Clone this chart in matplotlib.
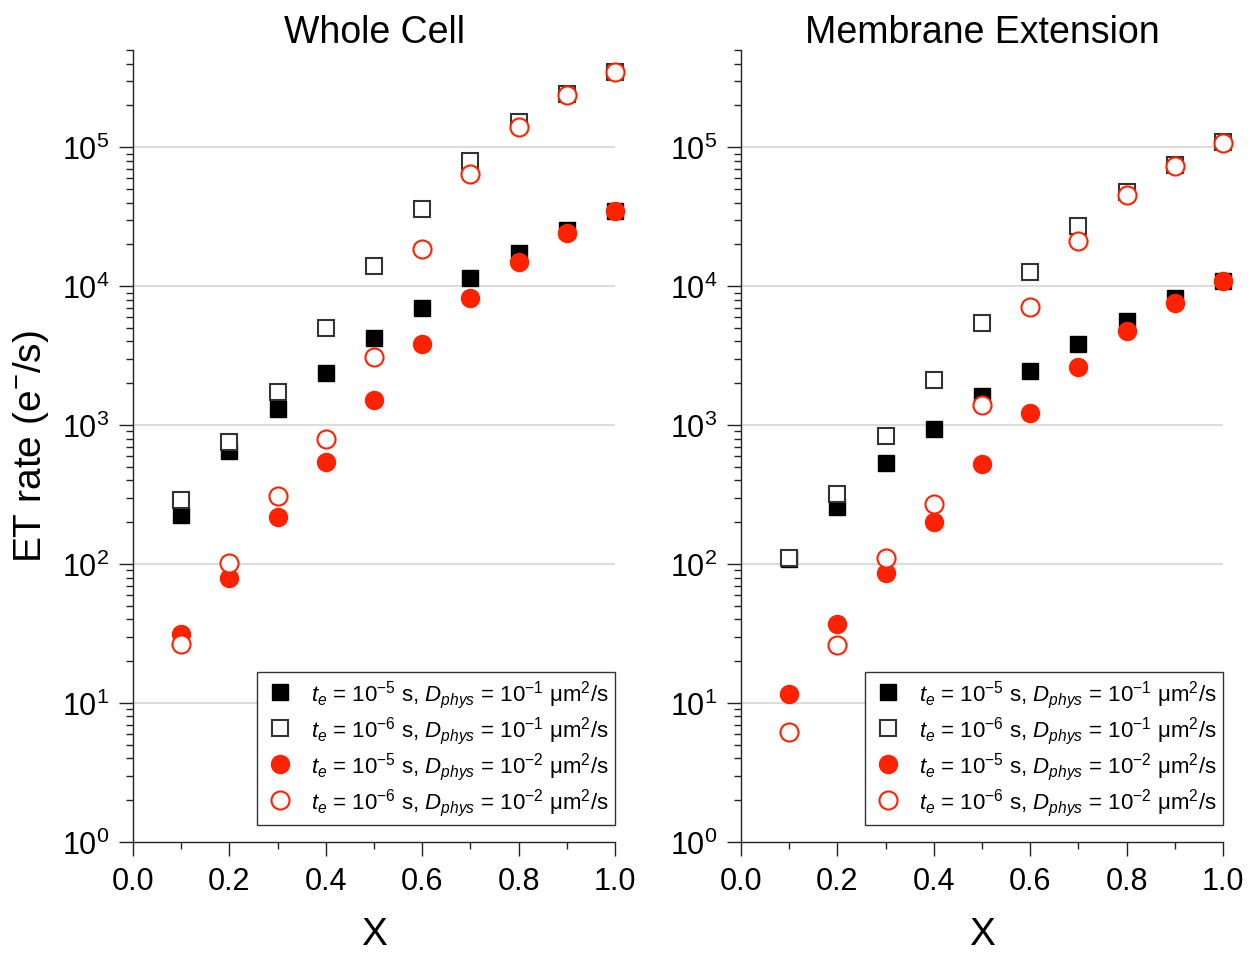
import numpy as np
import matplotlib
matplotlib.use("Agg")
import matplotlib.pyplot as plt
from matplotlib.ticker import LogLocator, MultipleLocator, LogFormatterMathtext, NullFormatter

plt.rcParams['font.family'] = ['Liberation Sans', 'DejaVu Sans']
plt.rcParams['mathtext.fontset'] = 'custom'
plt.rcParams['mathtext.rm'] = 'Liberation Sans'
plt.rcParams['mathtext.it'] = 'Liberation Sans:italic'
plt.rcParams['mathtext.bf'] = 'Liberation Sans:bold'

x = [0.1, 0.2, 0.3, 0.4, 0.5, 0.6, 0.7, 0.8, 0.9, 1.0]

# Whole Cell
wc_sq_filled = [227, 655, 1306, 2392, 4266, 6936, 11400, 17330, 25340, 34850]
wc_sq_open = [291, 751, 1746, 5034, 14040, 35870, 79750, 152000, 243000, 347600]
wc_ci_filled = [31.2, 79.7, 217, 543, 1506, 3826, 8185, 14860, 23990, 34850]
wc_ci_open = [26.8, 102, 311, 798, 3118, 18500, 64700, 140000, 236500, 347600]

# Membrane Extension
me_sq_filled = [108, 258, 534, 938, 1626, 2472, 3826, 5623, 8185, 10960]
me_sq_open = [111, 320, 829, 2119, 5412, 12590, 27070, 47750, 75130, 109200]
me_ci_filled = [11.6, 36.8, 85.6, 200, 525, 1222, 2600, 4766, 7535, 10960]
me_ci_open = [6.14, 26.2, 111, 271, 1402, 7127, 21230, 45190, 73420, 108100]

labels = [
    r'$t_e$ = 10$^{-5}$ s, $D_{phys}$ = 10$^{-1}$ $\mathrm{\mu}$m$^2$/s',
    r'$t_e$ = 10$^{-6}$ s, $D_{phys}$ = 10$^{-1}$ $\mathrm{\mu}$m$^2$/s',
    r'$t_e$ = 10$^{-5}$ s, $D_{phys}$ = 10$^{-2}$ $\mathrm{\mu}$m$^2$/s',
    r'$t_e$ = 10$^{-6}$ s, $D_{phys}$ = 10$^{-2}$ $\mathrm{\mu}$m$^2$/s',
]
titles = ['Whole Cell', 'Membrane Extension']

red = '#ff2200'

fig = plt.figure(figsize=(12.5, 9.54), dpi=100)
ax1 = fig.add_axes([0.1064, 0.1164, 0.3856, 0.830])
ax2 = fig.add_axes([0.5928, 0.1164, 0.3856, 0.830])

panels = [
    (ax1, wc_sq_filled, wc_sq_open, wc_ci_filled, wc_ci_open),
    (ax2, me_sq_filled, me_sq_open, me_ci_filled, me_ci_open),
]

for i, (ax, sf, so, cf, co) in enumerate(panels):
    ax.plot(x, sf, 's', ms=11.5, mfc='black', mec='black', mew=1, ls='none',
            label=labels[0], zorder=3, clip_on=False)
    ax.plot(x, so, 's', ms=11.5, mfc='white', mec='#333333', mew=1.5, ls='none',
            label=labels[1], zorder=4, clip_on=False)
    ax.plot(x, cf, 'o', ms=13, mfc=red, mec=red, mew=1, ls='none',
            label=labels[2], zorder=5, clip_on=False)
    ax.plot(x, co, 'o', ms=13, mfc='white', mec=red, mew=1.5, ls='none',
            label=labels[3], zorder=6, clip_on=False)

    ax.set_yscale('log')
    ax.set_xlim(0, 1.0)
    ax.set_ylim(1, 5e5)
    ax.xaxis.set_major_locator(MultipleLocator(0.2))
    ax.xaxis.set_minor_locator(MultipleLocator(0.1))
    ax.xaxis.set_major_formatter(plt.FormatStrFormatter('%.1f'))
    ax.yaxis.set_major_locator(LogLocator(base=10, numticks=10))
    ax.yaxis.set_minor_locator(LogLocator(base=10, subs=np.arange(2, 10), numticks=20))
    ax.yaxis.set_major_formatter(LogFormatterMathtext())
    ax.yaxis.set_minor_formatter(NullFormatter())

    for yv in [1e1, 1e2, 1e3, 1e4, 1e5]:
        ax.axhline(yv, color='#dcdcdc', lw=1.5, zorder=1)

    ax.spines['top'].set_visible(False)
    ax.spines['right'].set_visible(False)
    for s in ['left', 'bottom']:
        ax.spines[s].set_color('#222222')
        ax.spines[s].set_linewidth(1.0)

    ax.tick_params(which='major', direction='out', length=10, width=1, labelsize=22, pad=7, color='#222222')
    ax.tick_params(which='minor', direction='out', length=5, width=1, color='#222222')

    ax.set_title(titles[i], fontsize=27, pad=2)
    ax.set_xlabel('X', fontsize=28, labelpad=15)

    leg = ax.legend(loc='lower right', bbox_to_anchor=(1.0, 0.0215), fontsize=16,
                    frameon=True, fancybox=False, edgecolor='#333333', framealpha=1,
                    borderpad=0.3, labelspacing=0.18, handletextpad=0.7,
                    handlelength=1.4, borderaxespad=0)
    leg.get_frame().set_linewidth(1.0)
    leg.set_zorder(10)

ax1.set_ylabel('ET rate (e$^{-}$/s)', fontsize=28, labelpad=8)

fig.savefig('out.png', dpi=100)
